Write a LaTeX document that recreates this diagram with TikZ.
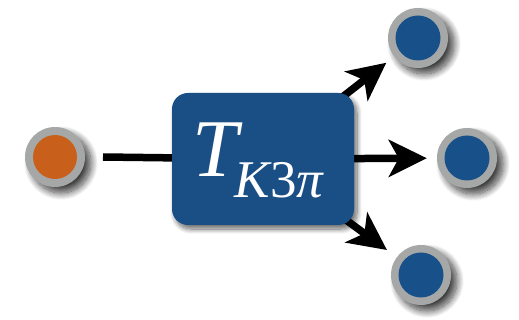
\documentclass[tikz,border=0pt]{standalone}
\usepackage{fontspec}
\setmainfont{Liberation Serif}
\usetikzlibrary{arrows.meta,shadows.blur}
\definecolor{boxblue}{RGB}{26,79,134}
\definecolor{dotblue}{RGB}{24,80,138}
\definecolor{dotorange}{RGB}{200,96,28}
\definecolor{ringgray}{RGB}{166,168,168}
\begin{document}
\begin{tikzpicture}[x=1pt,y=-1pt,
  ring/.style={circle,fill=ringgray,minimum size=60pt,inner sep=0pt,
    blur shadow={shadow xshift=6pt,shadow yshift=-6pt,shadow blur radius=7pt,shadow blur steps=14,shadow opacity=75}},
  conn/.style={line width=7.5pt},
  arr/.style={line width=7.5pt,-{Stealth[length=38pt,width=37pt,inset=10pt]}}]
\useasboundingbox (0,0) rectangle (519,320);
% circles
\node[ring] (o) at (55,157) {};
\node[ring] (t) at (418,38) {};
\node[ring] (m) at (467,158) {};
\node[ring] (b) at (421,275) {};
\fill[dotorange] (o) circle (22);
\fill[dotblue] (t) circle (22.5);
\fill[dotblue] (m) circle (22.5);
\fill[dotblue] (b) circle (22.5);
% box coordinate for directions
\coordinate (bc) at (263,159);
% connectors
\draw[conn] (o) ++(48,0) coordinate (ostart) -- (bc);
\draw[arr,shorten >=10pt] (bc) -- (t);
\draw[arr,shorten >=10pt] (bc) -- (m);
\draw[arr,shorten >=12pt] (bc) -- (b);
% box
\node[fill=boxblue,rounded corners=16pt,minimum width=182pt,minimum height=132pt,
  blur shadow={shadow xshift=3pt,shadow yshift=-4pt,shadow blur radius=5pt,shadow blur steps=10,shadow opacity=60}] (box) at (bc) {};
\node[anchor=base west,text=white,inner sep=0pt] (lbl) at (192,177)
  {\fontsize{82}{82}\selectfont\itshape T\kern-3pt\raisebox{-21pt}{\fontsize{53}{53}\selectfont K{\upshape 3}π}};
\end{tikzpicture}
\end{document}
